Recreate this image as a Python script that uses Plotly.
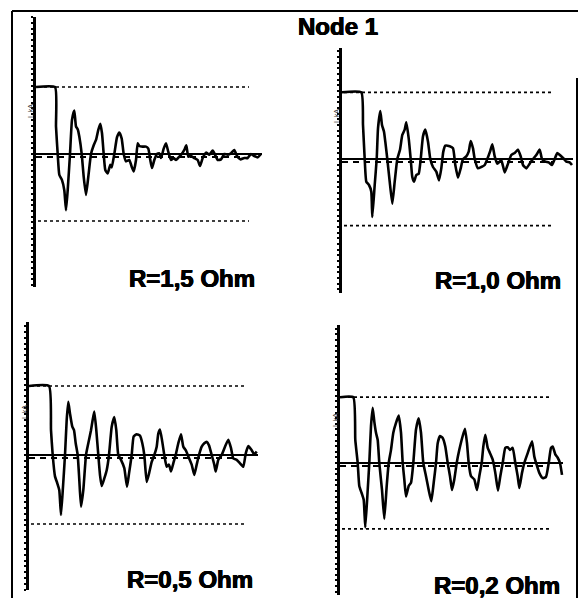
import plotly.graph_objects as go

# ---- data: normalised node voltage vs. time for four damping resistances ----
# reference levels (dotted lines) sit at +/-1
R_LABELS = ["R=1,5 Ohm", "R=1,0 Ohm", "R=0,5 Ohm", "R=0,2 Ohm"]
TITLE = "Node 1"

t_r15 = [0, 19.0, 20.0, 21.7, 23.3, 26.0, 28.3, 30.0, 31.7, 34.0, 36.0, 38.3, 40.0, 41.7, 43.3,
         45.7, 47.7, 50.0, 52.3, 55.0, 57.7, 60.0, 62.3, 64.3, 66.0, 67.7, 69.3, 71.7, 74.3, 75.7,
         78.3, 81.0, 83.3, 85.7, 87.7, 90.0, 93.3, 95.7, 97.7, 100.0, 101.7, 103.3, 106.7, 110.0,
         112.3, 114.3, 116.0, 118.3, 121.0, 123.3, 125.0, 127.7, 130.0, 132.3, 135.0, 137.7, 140.0,
         143.3, 145.7, 148.3, 150.3, 152.3, 155.0, 158.3, 161.7, 164.0, 166.7, 170.0, 173.3, 176.7,
         179.0, 181.7, 185.0, 188.3, 191.7, 195.0, 198.3, 201.0, 204.3, 208.3, 211.7, 215.0, 218.3,
         221.7, 225.0]
v_r15 = [1.0, 1.0, 0.41, 0, -0.31, -0.39, -0.54, -0.84, -0.54, 0, 0.51, 0.65, 0.41, 0.37, 0.26,
         0, -0.34, -0.61, -0.34, 0, 0.13, 0.21, 0.36, 0.45, 0.31, 0, -0.24, -0.29, -0.16, -0.20,
         0, 0.25, 0.32, 0.23, 0, -0.11, -0.09, -0.19, -0.26, -0.09, 0.16, 0.12, 0.11, 0.11,
         0.08, -0.09, -0.21, -0.09, 0, 0.01, -0.06, 0.08, 0.16, 0.03, -0.09, -0.06, -0.09,
         -0.04, 0, 0.06, 0.13, -0.04, -0.03, -0.06, -0.09, -0.18, -0.06, 0.02, -0.01, 0.05,
         -0.01, -0.09, -0.08, 0, -0.01, 0.01, 0.06, -0.03, -0.08, -0.06, -0.06, 0, -0.03,
         -0.05, 0]

t_r10 = [0, 19.3, 21.0, 22.7, 24.3, 27.0, 29.3, 30.3, 32.7, 34.7, 36.0, 38.3, 40.0, 42.0, 43.3,
         45.3, 47.7, 50.3, 52.7, 55.3, 58.0, 60.3, 62.7, 64.3, 66.7, 68.7, 70.3, 72.0, 74.3, 76.7,
         78.7, 81.0, 83.3, 86.0, 88.3, 91.0, 94.3, 97.0, 99.3, 101.3, 103.3, 107.7, 111.0, 113.3,
         116.0, 118.7, 121.0, 124.3, 126.7, 128.7, 131.0, 132.7, 136.0, 139.3, 142.7, 145.3, 148.0,
         150.3, 152.7, 155.3, 159.3, 162.7, 166.0, 169.3, 172.7, 176.0, 178.7, 181.0, 184.3, 187.7,
         191.0, 194.3, 197.7, 200.0, 203.3, 206.7, 210.0, 212.7, 215.3, 218.7, 222.0, 224.3, 227.7,
         230.0]
v_r10 = [1.0, 1.0, 0.51, 0, -0.34, -0.39, -0.49, -0.87, -0.39, 0, 0.46, 0.72, 0.51, 0.41, 0.26,
         0, -0.34, -0.67, -0.34, 0, 0.14, 0.36, 0.44, 0.55, 0.31, 0, -0.27, -0.34, -0.24, -0.22,
         0, 0.34, 0.44, 0.26, 0, -0.12, -0.19, -0.32, -0.14, 0.11, 0.20, 0.19, 0.16, -0.09,
         -0.28, -0.14, 0, 0.04, 0.11, 0.27, 0.16, 0, -0.14, -0.12, -0.09, 0, 0.11,
         0.22, 0.04, -0.07, -0.02, -0.20, -0.07, 0.06, 0.09, 0.14, 0.04, -0.09, -0.14, -0.07,
         0, 0.06, 0.14, 0, -0.04, -0.05, -0.09, 0, 0.09, 0.05, 0, -0.04, -0.05,
         -0.09]

t_r05 = [0, 20.0, 22.0, 23.7, 26.0, 28.3, 30.3, 32.0, 34.0, 36.0, 37.7, 39.3, 41.0, 43.3, 45.0,
         46.7, 48.7, 50.3, 52.0, 54.3, 57.0, 59.3, 62.0, 63.7, 65.3, 67.3, 69.3, 71.0, 72.7, 75.3,
         77.7, 80.0, 82.7, 85.3, 87.3, 89.3, 92.0, 95.3, 98.0, 100.0, 102.7, 104.7, 107.7, 111.0,
         113.3, 115.3, 117.7, 120.0, 122.7, 125.3, 127.7, 129.3, 131.0, 133.3, 135.3, 137.7, 140.0,
         142.0, 144.3, 146.7, 149.3, 152.0, 154.3, 156.7, 159.3, 162.7, 165.3, 167.7, 170.0, 172.7,
         175.3, 177.7, 180.0, 182.7, 185.3, 186.7, 189.3, 192.7, 196.0, 199.3, 202.0, 204.3, 207.7,
         211.0, 214.3, 216.7, 219.3, 222.7, 225.3, 227.7]
v_r05 = [1.0, 1.0, 0.36, 0, -0.31, -0.41, -0.51, -0.87, -0.46, 0, 0.51, 0.77, 0.60, 0.41, 0.36,
         0.17, 0, -0.36, -0.75, -0.51, 0, 0.17, 0.36, 0.51, 0.63, 0.36, 0, -0.29, -0.45, -0.34,
         -0.22, 0, 0.41, 0.55, 0.36, 0, -0.07, -0.19, -0.46, -0.27, 0, 0.27, 0.30, 0.28,
         0.17, 0, -0.39, -0.27, -0.10, 0, 0.12, 0.31, 0.37, 0.19, 0, -0.17, -0.14,
         -0.24, -0.12, 0, 0.17, 0.30, 0.12, 0.07, -0.02, -0.14, -0.29, -0.14, 0, 0.12,
         0.17, 0.19, 0.14, 0, -0.14, -0.24, -0.07, 0, 0.12, 0.22, 0.10, -0.05, -0.07,
         -0.12, -0.17, 0.02, 0.13, 0.07, 0.01, 0.05]

t_r02 = [0, 13.3, 15.3, 17.7, 19.3, 21.7, 23.7, 25.3, 27.7, 29.3, 31.0, 32.7, 34.3, 36.0, 37.7,
         39.3, 42.0, 44.3, 46.7, 48.7, 51.0, 53.3, 56.0, 58.7, 61.0, 62.7, 64.3, 66.0, 68.7, 71.0,
         73.3, 76.0, 78.7, 81.0, 83.3, 86.0, 88.7, 91.3, 93.7, 96.0, 97.7, 100.0, 102.7, 105.3,
         107.7, 110.0, 112.0, 114.3, 116.7, 119.3, 122.7, 125.0, 127.0, 128.7, 131.0, 134.3, 137.0,
         139.3, 141.7, 143.3, 145.3, 147.7, 150.0, 152.7, 155.3, 158.0, 160.3, 162.7, 165.3, 167.7,
         170.0, 172.7, 175.3, 177.7, 179.3, 182.0, 184.3, 187.7, 192.0, 194.3, 196.7, 199.3, 202.7,
         206.0, 208.7, 211.0, 212.7, 215.3, 217.7, 220.0, 222.0]
v_r02 = [1.0, 1.0, 0.35, 0, -0.35, -0.46, -0.56, -0.98, -0.41, 0, 0.56, 0.84, 0.63, 0.46, 0.35,
         0, -0.41, -0.85, -0.35, 0, 0.20, 0.46, 0.61, 0.72, 0.46, 0, -0.25, -0.51, -0.35, -0.30,
         0, 0.51, 0.68, 0.46, 0, -0.20, -0.41, -0.58, -0.30, 0, 0.30, 0.41, 0.38, 0.25,
         0, -0.20, -0.41, -0.25, 0, 0.20, 0.41, 0.52, 0.30, 0, -0.20, -0.25, -0.41,
         -0.20, 0, 0.25, 0.43, 0.23, 0.15, 0.05, -0.15, -0.42, -0.20, 0, 0.23, 0.24,
         0.20, 0.23, 0, -0.20, -0.38, -0.15, 0, 0.15, 0.33, 0.10, -0.03, -0.15, -0.23,
         -0.21, 0, 0.23, 0.25, 0.13, 0.08, 0, -0.18]

T_SERIES = [t_r15, t_r10, t_r05, t_r02]
V_SERIES = [v_r15, v_r10, v_r05, v_r02]
REF_LEVEL = 1.0          # dotted limit lines at +/- this value
BIAS_LEVEL = -0.045      # dashed base line just under zero
REF_END = [213, 211, 218, 210]      # end of dotted lines (time units)
ZERO_END = [226, 231, 229, 223]     # end of the solid zero line

# ---- page geometry (pixels) ----
W, H = 578, 598
# per panel: y-axis x position, y-axis top / bottom, zero-line y, px per unit
PANELS = [
    dict(ax=36, top=17, bot=287, zero=154, unit=67.0),
    dict(ax=342, top=48, bot=293, zero=159, unit=66.7),
    dict(ax=29, top=322, bot=590, zero=455, unit=69.0),
    dict(ax=340, top=325, bot=595, zero=463, unit=65.8),
]
X_SPAN = 234   # time units shown, 1 unit = 1 px
LABEL_POS = [(192, 278), (498, 280), (190, 579), (497, 585)]
FONT = "Arial, Liberation Sans, sans-serif"
HEAVY = "0.5px 0 0 black, -0.5px 0 0 black, 0 0.4px 0 black"

fig = go.Figure()
layout = dict(
    width=W, height=H, margin=dict(l=0, r=0, t=0, b=0),
    paper_bgcolor="white", plot_bgcolor="rgba(0,0,0,0)", showlegend=False,
)

for i, p in enumerate(PANELS):
    n = "" if i == 0 else str(i + 1)
    xa, ya = "x" + n, "y" + n
    x0 = p["ax"] / W
    x1 = (p["ax"] + X_SPAN) / W
    y0 = 1 - p["bot"] / H
    y1 = 1 - p["top"] / H
    rmax = (p["zero"] - p["top"]) / p["unit"]
    rmin = -(p["bot"] - p["zero"]) / p["unit"]
    layout["xaxis" + n] = dict(domain=[x0, x1], range=[0, X_SPAN], visible=False,
                              anchor=ya, fixedrange=True)
    layout["yaxis" + n] = dict(
        domain=[y0, y1], range=[rmin, rmax], anchor=xa,
        showline=True, linecolor="black", linewidth=2.6,
        ticks="outside", ticklen=2.5, tickwidth=2, tickcolor="black",
        tick0=0, dtick=0.085, showticklabels=False,
        showgrid=False, zeroline=False, fixedrange=True,
    )
    # dotted reference limits
    for lvl in (REF_LEVEL, -REF_LEVEL):
        fig.add_trace(go.Scatter(
            x=[2, REF_END[i]], y=[lvl, lvl], mode="lines", xaxis=xa, yaxis=ya,
            line=dict(color="black", width=1.7, dash="3px,3px"), hoverinfo="skip"))
    # dashed base line and solid zero line
    fig.add_trace(go.Scatter(
        x=[0, ZERO_END[i] - 20], y=[BIAS_LEVEL, BIAS_LEVEL], mode="lines", xaxis=xa, yaxis=ya,
        line=dict(color="black", width=2, dash="6px,5px"), hoverinfo="skip"))
    fig.add_trace(go.Scatter(
        x=[0, ZERO_END[i]], y=[0, 0], mode="lines", xaxis=xa, yaxis=ya,
        line=dict(color="black", width=1.8), hoverinfo="skip"))
    # measured response
    fig.add_trace(go.Scatter(
        x=T_SERIES[i], y=V_SERIES[i], mode="lines", xaxis=xa, yaxis=ya,
        line=dict(color="black", width=2.6, shape="spline", smoothing=0.45),
        hoverinfo="skip"))

annotations = []
for (cx, cy), txt in zip(LABEL_POS, R_LABELS):
    annotations.append(dict(
        text="<b>" + txt + "</b>", x=cx / W, y=1 - cy / H, xref="paper", yref="paper",
        xanchor="center", yanchor="middle", showarrow=False,
        font=dict(family=FONT, size=24, color="black", shadow=HEAVY)))
annotations.append(dict(
    text="<b>" + TITLE + "</b>", x=338 / W, y=1 - 27 / H, xref="paper", yref="paper",
    xanchor="center", yanchor="middle", showarrow=False,
    font=dict(family=FONT, size=24, color="black", shadow=HEAVY)))
# small rotated unit tag beside each y axis
for p in PANELS:
    annotations.append(dict(
        text="I, kA", x=(p["ax"] - 5) / W, y=1 - (p["zero"] - 43) / H,
        xref="paper", yref="paper", xanchor="center", yanchor="middle",
        showarrow=False, textangle=-90,
        font=dict(family=FONT, size=7, color="#333")))
layout["annotations"] = annotations

# outer frame
def px_line(xa_, ya_, xb, yb):
    return dict(type="line", xref="paper", yref="paper",
                x0=xa_ / W, y0=1 - ya_ / H, x1=xb / W, y1=1 - yb / H,
                line=dict(color="black", width=2))

layout["shapes"] = [
    px_line(12, 11, 578, 11),
    px_line(12, 11, 12, 600),
    px_line(577, 78, 577, 600),
]

fig.update_layout(**layout)
fig.write_html("out.html")
